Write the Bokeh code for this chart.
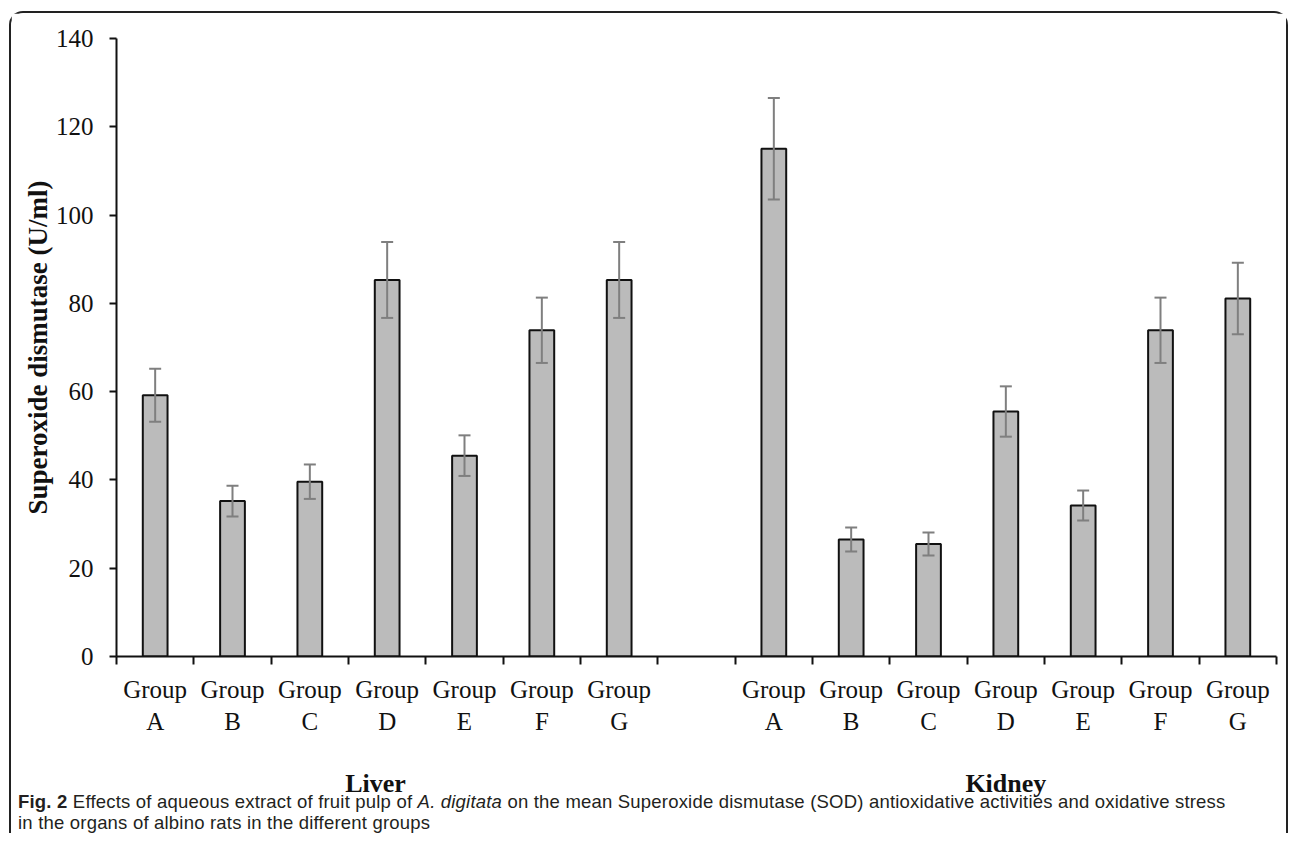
from bokeh.plotting import figure
from bokeh.models import (ColumnDataSource, Range1d, FixedTicker, Whisker, TeeHead,
                          LinearAxis, Div)
from bokeh.layouts import column
from bokeh.embed import file_html
from bokeh.resources import INLINE

# ---- data ----
organs = ["Liver", "Kidney"]
groups = ["A", "B", "C", "D", "E", "F", "G"]
liver_mean = [59.2, 35.2, 39.6, 85.3, 45.5, 73.9, 85.3]
liver_err = [6.0, 3.5, 3.9, 8.6, 4.6, 7.4, 8.6]
kidney_mean = [115.0, 26.5, 25.5, 55.5, 34.2, 73.9, 81.1]
kidney_err = [11.5, 2.7, 2.6, 5.7, 3.4, 7.4, 8.1]
y_ticks = [0, 20, 40, 60, 80, 100, 120, 140]
y_label = "Superoxide dismutase (U/ml)"

# slot layout: 7 liver slots, one empty slot, 7 kidney slots
n = len(groups)
xs, tops, errs = [], [], []
for i in range(n):
    xs.append(i + 0.5); tops.append(liver_mean[i]); errs.append(liver_err[i])
for i in range(n):
    xs.append(n + 1 + i + 0.5); tops.append(kidney_mean[i]); errs.append(kidney_err[i])
src = ColumnDataSource(dict(x=xs, top=tops,
                            upper=[t + e for t, e in zip(tops, errs)],
                            lower=[t - e for t, e in zip(tops, errs)]))
n_slots = 2 * n + 1

SERIF = "Liberation Serif"
INK = "#111111"

p = figure(width=1275, height=788, output_backend="svg", toolbar_location=None,
           x_range=Range1d(0, n_slots), y_range=Range1d(0, 140),
           min_border_left=105, min_border_right=10, min_border_top=25,
           min_border_bottom=145, x_axis_location=None, y_axis_location=None)
p.outline_line_color = None
p.xgrid.visible = False
p.ygrid.visible = False
p.background_fill_color = "white"
p.border_fill_color = "white"

# y axis
yax = LinearAxis(ticker=FixedTicker(ticks=y_ticks, minor_ticks=[]))
yax.axis_line_color = INK
yax.axis_line_width = 2
yax.major_tick_line_color = INK
yax.major_tick_line_width = 2
yax.major_tick_out = 7
yax.major_tick_in = 0
yax.minor_tick_out = 0
yax.minor_tick_in = 0
yax.major_label_text_font = SERIF
yax.major_label_text_font_size = "25px"
yax.major_label_text_color = INK
yax.major_label_standoff = 16
yax.axis_label = y_label
yax.axis_label_text_font = SERIF
yax.axis_label_text_font_size = "27px"
yax.axis_label_text_font_style = "bold"
yax.axis_label_text_color = INK
yax.axis_label_standoff = 0
p.add_layout(yax, "left")

# x axis: labels at slot centres, tick marks at slot boundaries (minor ticks)
centers = [i + 0.5 for i in range(n)] + [n + 1 + i + 0.5 for i in range(n)]
labels = {}
for i, g in enumerate(groups):
    labels[i + 0.5] = "Group\n" + g
    labels[n + 1 + i + 0.5] = "Group\n" + g
xax = LinearAxis(ticker=FixedTicker(ticks=centers, minor_ticks=list(range(n_slots + 1))))
xax.major_label_overrides = labels
xax.axis_line_color = INK
xax.axis_line_width = 2
xax.major_tick_out = 0
xax.major_tick_in = 0
xax.minor_tick_out = 8
xax.minor_tick_in = 0
xax.minor_tick_line_color = INK
xax.minor_tick_line_width = 2
xax.major_label_text_font = SERIF
xax.major_label_text_font_size = "25px"
xax.major_label_text_color = INK
xax.major_label_text_line_height = 1.2
xax.major_label_standoff = 11
p.add_layout(xax, "below")

# organ group labels (second category level)
org_pos = [3.35, n + 1 + 3.5]
gax = LinearAxis(ticker=FixedTicker(ticks=org_pos, minor_ticks=[]))
gax.major_label_overrides = {pos: name for pos, name in zip(org_pos, organs)}
gax.axis_line_color = None
gax.major_tick_line_color = None
gax.minor_tick_line_color = None
gax.major_tick_out = 0
gax.major_tick_in = 0
gax.minor_tick_out = 0
gax.minor_tick_in = 0
gax.major_label_text_font = SERIF
gax.major_label_text_font_size = "26px"
gax.major_label_text_font_style = "bold"
gax.major_label_text_color = INK
gax.major_label_standoff = 31
p.add_layout(gax, "below")

# bars
p.vbar(x="x", top="top", bottom=0, width=0.32, source=src,
       fill_color="#bbbbbb", line_color=INK, line_width=2)

# error bars
w = Whisker(base="x", upper="upper", lower="lower", source=src, level="overlay",
            line_color="#7f7f7f", line_width=2,
            upper_head=TeeHead(size=12, line_color="#7f7f7f", line_width=2),
            lower_head=TeeHead(size=12, line_color="#7f7f7f", line_width=2))
p.add_layout(w)

caption = Div(
    text=("<div style=\"font-family:'Liberation Sans';font-size:18.5px;line-height:21px;"
          "letter-spacing:0.2px;color:#231f20;white-space:nowrap;padding-left:7px;\">"
          "<b>Fig. 2</b> Effects of aqueous extract of fruit pulp of <i>A. digitata</i> "
          "on the mean Superoxide dismutase (SOD) antioxidative activities and oxidative stress<br>"
          "in the organs of albino rats in the different groups</div>"),
    width=1275, height=42, margin=(-10, 0, 0, 0))

layout = column(p, caption, margin=(11, 0, 0, 9),
                styles={"border": "2px solid #222222", "border-bottom": "none",
                        "border-radius": "14px 14px 0 0"})

open("out.html", "w").write(file_html(layout, INLINE))
